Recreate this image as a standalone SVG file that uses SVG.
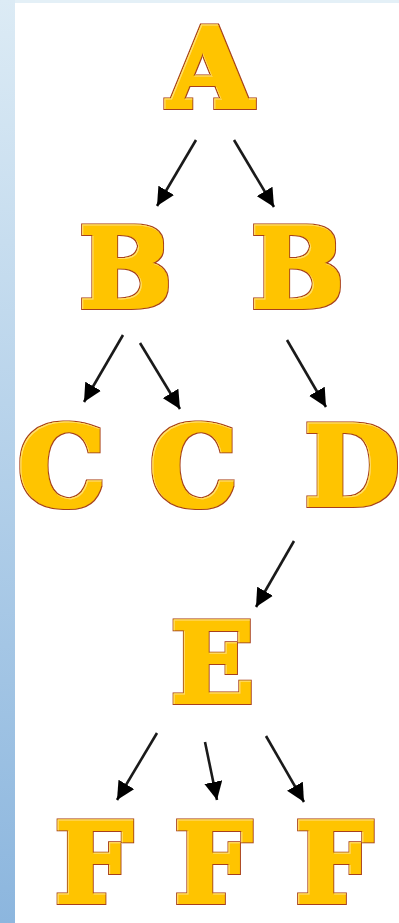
<svg xmlns="http://www.w3.org/2000/svg" width="399" height="923" viewBox="0 0 399 923">
<defs>
<linearGradient id="side" x1="0" y1="0" x2="0" y2="1">
<stop offset="0" stop-color="#dcebf5"/>
<stop offset="1" stop-color="#8cb6de"/>
</linearGradient>
<filter id="heavy" x="-20%" y="-20%" width="140%" height="140%">
<feMorphology in="SourceAlpha" operator="dilate" radius="2" result="thick"/>
<feMorphology in="SourceAlpha" operator="dilate" radius="3.4" result="outer"/>
<feFlood flood-color="#FFC400" result="yel"/>
<feComposite in="yel" in2="thick" operator="in" result="yelT"/>
<feFlood flood-color="#A8401A" result="red"/>
<feComposite in="red" in2="outer" operator="in" result="redT"/>
<feMorphology in="SourceAlpha" operator="erode" radius="0.6" result="inner"/>
<feOffset in="thick" dx="1" dy="1" result="sh"/>
<feComposite in="thick" in2="sh" operator="out" result="hl"/>
<feFlood flood-color="#FFE066" result="lt"/>
<feComposite in="lt" in2="hl" operator="in" result="hlT"/>
<feMerge>
<feMergeNode in="redT"/>
<feMergeNode in="yelT"/>
<feMergeNode in="hlT"/>
</feMerge>
</filter>
<marker id="ah" viewBox="0 0 10 10" refX="10" refY="5" markerWidth="7" markerHeight="7" markerUnits="strokeWidth" orient="auto">
<path d="M0,0 L10,5 L0,10 z" fill="#000"/>
</marker>
</defs>
<style>
.l{font-family:"DejaVu Serif",serif;font-weight:bold;font-size:110px;fill:#FFC400;text-anchor:middle;filter:url(#heavy)}
.c line{stroke:#1a1a1a;stroke-width:2.6;marker-end:url(#ah)}
</style>
<rect width="399" height="923" fill="#e4f0f7"/>
<rect x="0" y="0" width="15" height="923" fill="url(#side)"/>
<rect x="15" y="3" width="384" height="920" fill="#ffffff"/>
<g id="A"><text class="l" x="210" y="107">A</text></g>
<g id="B1"><text class="l" x="125.5" y="307">B</text></g>
<g id="B2"><text class="l" x="297.5" y="307">B</text></g>
<g id="C1"><text class="l" x="61.5" y="505">C</text></g>
<g id="C2"><text class="l" x="193.5" y="505">C</text></g>
<g id="D"><text class="l" x="352" y="505">D</text></g>
<g id="E"><text class="l" x="212.5" y="702">E</text></g>
<g id="F1"><text class="l" x="93.5" y="902">F</text></g>
<g id="F2"><text class="l" x="213" y="902">F</text></g>
<g id="F3"><text class="l" x="334" y="902">F</text></g>
<g id="connectors" class="c">
<line x1="196" y1="140" x2="157" y2="206"/>
<line x1="234" y1="140" x2="274" y2="207"/>
<line x1="123" y1="335" x2="84" y2="402"/>
<line x1="140" y1="343" x2="180" y2="409"/>
<line x1="287" y1="340" x2="326" y2="407"/>
<line x1="294" y1="541" x2="256" y2="607"/>
<line x1="157" y1="733" x2="117" y2="800"/>
<line x1="205" y1="742" x2="217" y2="800"/>
<line x1="266" y1="736" x2="304" y2="802"/>
</g>
</svg>
